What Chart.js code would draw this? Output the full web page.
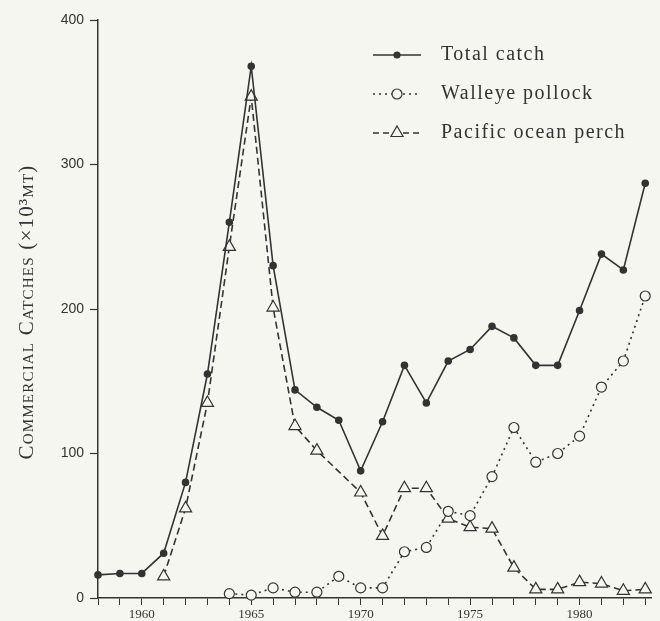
<!DOCTYPE html>
<html>
<head>
<meta charset="utf-8">
<script src="https://cdn.jsdelivr.net/npm/chart.js@4"></script>
<style>
  html, body { margin: 0; padding: 0; background: #f6f6f1; }
  #wrap { width: 660px; height: 621px; }
</style>
</head>
<body>
<div id="wrap"><canvas id="catchChart" width="660" height="621"></canvas></div>
<script>
// Años y capturas (x10^3 t)
const years = [1958, 1959, 1960, 1961, 1962, 1963, 1964, 1965, 1966, 1967, 1968, 1969, 1970,
  1971, 1972, 1973, 1974, 1975, 1976, 1977, 1978, 1979, 1980, 1981, 1982, 1983];
const totalCatch = [16, 17, 17, 31, 80, 155, 260, 368, 230, 144, 132, 123, 88,
  122, 161, 135, 164, 172, 188, 180, 161, 161, 199, 238, 227, 287];
const walleyePollock = [null, null, null, null, null, null, 3, 2, 7, 4, 4, 15, 7,
  7, 32, 35, 60, 57, 84, 118, 94, 100, 112, 146, 164, 209];
const oceanPerch = [null, null, null, 15, 62, 135, 243, 347, 201, 119, 102, null, 73,
  43, 76, 76, 55, 49, 48, 21, 6, 6, 11, 10, 5, 6];
const yTicks = [0, 100, 200, 300, 400];
const xLabels = [1960, 1965, 1970, 1975, 1980];
const legendLabels = ['Total catch', 'Walleye pollock', 'Pacific ocean perch'];

const ink = '#333333';
const paper = '#f6f6f1';
const serif = '"Liberation Serif", "DejaVu Serif", serif';

function toPoints(values) {
  return years.map((y, i) => ({ x: y, y: values[i] }));
}

// Leyenda dibujada a mano (línea + marcador + texto)
const legendPlugin = {
  id: 'customLegend',
  afterDraw(chart) {
    const ctx = chart.ctx;
    const rows = [
      { dash: [], style: 'circle', r: 3, fill: ink, y: 55 },
      { dash: [2, 4], style: 'circle', r: 5, fill: paper, y: 94 },
      { dash: [6, 4], style: 'triangle', r: 7, fill: paper, y: 133 }
    ];
    ctx.save();
    rows.forEach((row, i) => {
      ctx.strokeStyle = ink;
      ctx.lineWidth = 1.5;
      ctx.setLineDash(row.dash);
      ctx.beginPath();
      ctx.moveTo(373, row.y);
      ctx.lineTo(421, row.y);
      ctx.stroke();
      ctx.setLineDash([]);
      ctx.fillStyle = row.fill;
      ctx.lineWidth = 1.2;
      Chart.helpers.drawPoint(ctx, { pointStyle: row.style, radius: row.r, borderWidth: 1.2 }, 397, row.y);
      ctx.fillStyle = ink;
      ctx.font = '20px ' + serif;
      if ('letterSpacing' in ctx) ctx.letterSpacing = '1.5px';
      ctx.textBaseline = 'middle';
      ctx.fillText(legendLabels[i], 441, row.y);
    });
    ctx.restore();
  }
};

// Título del eje Y en versalitas
const yTitlePlugin = {
  id: 'yTitle',
  afterDraw(chart) {
    const ctx = chart.ctx;
    ctx.save();
    ctx.translate(27, 312);
    ctx.rotate(-Math.PI / 2);
    ctx.fillStyle = ink;
    ctx.font = 'small-caps 21px ' + serif;
    if ('fontVariantCaps' in ctx) ctx.fontVariantCaps = 'small-caps';
    if ('letterSpacing' in ctx) ctx.letterSpacing = '1.2px';
    ctx.textAlign = 'center';
    ctx.textBaseline = 'middle';
    ctx.fillText('Commercial Catches (\u00d710\u00b3mt)', 0, 0);
    ctx.restore();
  }
};

const catchConfig = {
  type: 'line',
  data: {
    datasets: [{
      label: legendLabels[0],
      data: toPoints(totalCatch),
      borderColor: ink,
      borderWidth: 1.6,
      pointStyle: 'circle',
      pointRadius: 3,
      pointBackgroundColor: ink,
      pointBorderColor: ink,
      clip: 8,
      tension: 0
    }, {
      label: legendLabels[1],
      data: toPoints(walleyePollock),
      borderColor: ink,
      borderWidth: 1.6,
      borderDash: [2, 4],
      pointStyle: 'circle',
      pointRadius: 5,
      pointBorderWidth: 1.2,
      pointBackgroundColor: paper,
      pointBorderColor: ink,
      clip: 8,
      tension: 0
    }, {
      label: legendLabels[2],
      data: toPoints(oceanPerch),
      borderColor: ink,
      borderWidth: 1.6,
      borderDash: [7, 4],
      pointStyle: 'triangle',
      pointRadius: 7,
      pointBorderWidth: 1.2,
      pointBackgroundColor: paper,
      pointBorderColor: ink,
      spanGaps: true,
      clip: 8,
      tension: 0
    }]
  },
  options: {
    responsive: false,
    animation: false,
    layout: { padding: { top: 20, right: 3, left: 0, bottom: 0 } },
    plugins: { legend: { display: false }, tooltip: { enabled: false } },
    scales: {
      x: {
        type: 'linear',
        min: 1958,
        max: 1983.3,
        afterBuildTicks(scale) {
          scale.ticks = years.map(v => ({ value: v }));
        },
        afterFit(scale) { scale.height = 23; },
        grid: { display: true, drawOnChartArea: false, drawTicks: true, tickLength: 7, tickColor: ink, tickWidth: 1 },
        border: { color: ink, width: 1.5 },
        ticks: {
          autoSkip: false,
          maxRotation: 0,
          padding: 2,
          color: ink,
          font: { family: serif, size: 13 },
          callback: v => xLabels.includes(v) ? String(v) : ''
        }
      },
      y: {
        min: 0,
        max: 400,
        afterBuildTicks(scale) {
          scale.ticks = yTicks.map(v => ({ value: v }));
        },
        afterFit(scale) { scale.width = 98; },
        grid: { display: true, drawOnChartArea: false, drawTicks: true, tickLength: 8, tickColor: ink, tickWidth: 1.2 },
        border: { color: ink, width: 1.5 },
        ticks: {
          padding: 6,
          color: ink,
          font: { family: '"Liberation Sans", Arial, sans-serif', size: 14 }
        }
      }
    }
  },
  plugins: [legendPlugin, yTitlePlugin]
};

const catchChart = new Chart(document.getElementById('catchChart'), catchConfig);
</script>
</body>
</html>
